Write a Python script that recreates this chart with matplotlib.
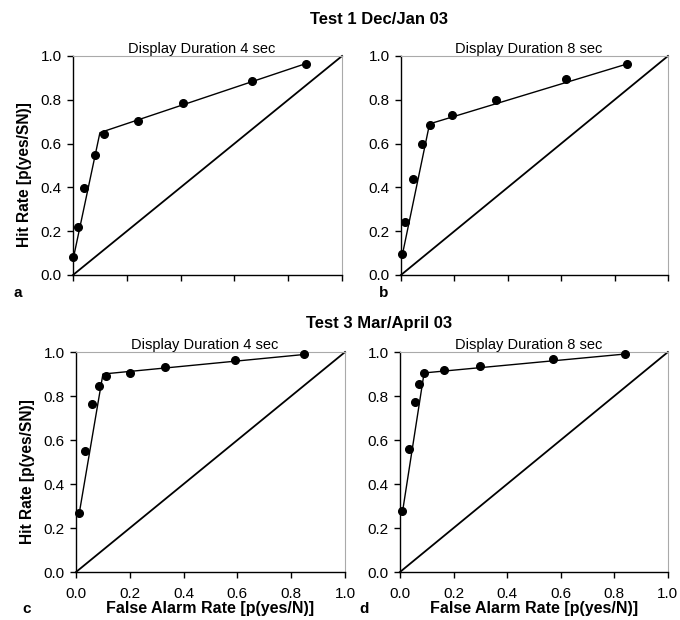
import numpy as np
import matplotlib
matplotlib.use('Agg')
import matplotlib.pyplot as plt

plt.rcParams['font.family'] = ['Liberation Sans', 'DejaVu Sans']

# Test 1, 4 sec
fa_a = [0.0, 0.019, 0.040, 0.080, 0.114, 0.243, 0.409, 0.665, 0.865]
hit_a = [0.084, 0.220, 0.398, 0.547, 0.643, 0.704, 0.786, 0.888, 0.964]
line_a_x = [0.0, 0.10, 0.865]
line_a_y = [0.07, 0.65, 0.965]

# Test 1, 8 sec
fa_b = [0.003, 0.016, 0.044, 0.078, 0.107, 0.192, 0.357, 0.619, 0.848]
hit_b = [0.094, 0.243, 0.439, 0.596, 0.683, 0.731, 0.801, 0.894, 0.964]
line_b_x = [0.003, 0.107, 0.848]
line_b_y = [0.08, 0.69, 0.964]

# Test 3, 4 sec
fa_c = [0.011, 0.033, 0.061, 0.084, 0.112, 0.201, 0.331, 0.590, 0.849]
hit_c = [0.267, 0.550, 0.766, 0.844, 0.891, 0.906, 0.934, 0.965, 0.989]
line_c_x = [0.011, 0.10, 0.849]
line_c_y = [0.26, 0.90, 0.989]

# Test 3, 8 sec
fa_d = [0.009, 0.034, 0.056, 0.071, 0.088, 0.165, 0.298, 0.571, 0.841]
hit_d = [0.279, 0.560, 0.772, 0.855, 0.903, 0.917, 0.937, 0.970, 0.991]
line_d_x = [0.009, 0.09, 0.841]
line_d_y = [0.27, 0.905, 0.991]

ticks = [0.0, 0.2, 0.4, 0.6, 0.8, 1.0]
tick_labels = ['0.0', '0.2', '0.4', '0.6', '0.8', '1.0']

fig = plt.figure(figsize=(6.8, 6.2), dpi=100)

panels = [
    ([0.1074, 0.5565, 0.3956, 0.3532], fa_a, hit_a, line_a_x, line_a_y, 'Display Duration 4 sec', 'a', True, False, (-0.204, -0.082)),
    ([0.5897, 0.5565, 0.3926, 0.3532], fa_b, hit_b, line_b_x, line_b_y, 'Display Duration 8 sec', 'b', False, False, (-0.064, -0.082)),
    ([0.1118, 0.0774, 0.3956, 0.3548], fa_c, hit_c, line_c_x, line_c_y, 'Display Duration 4 sec', 'c', True, True, (-0.182, -0.168)),
    ([0.5882, 0.0774, 0.3940, 0.3548], fa_d, hit_d, line_d_x, line_d_y, 'Display Duration 8 sec', 'd', False, True, (-0.134, -0.168)),
]

for rect, fx, hy, lx, ly, title, letter, ylab, xlab, lpos in panels:
    ax = fig.add_axes(rect)
    ax.plot([0, 1], [0, 1], color='black', lw=1.3, clip_on=False)
    ax.plot(lx, ly, color='black', lw=1.0, clip_on=False)
    ax.plot(fx, hy, 'o', color='black', ms=5.5, clip_on=False, zorder=3)
    ax.set_xlim(0, 1)
    ax.set_ylim(0, 1)
    ax.set_xticks(ticks)
    ax.set_yticks(ticks)
    ax.set_yticklabels(tick_labels, fontsize=11)
    if xlab:
        ax.set_xticklabels(tick_labels, fontsize=11)
        ax.set_xlabel('False Alarm Rate [p(yes/N)]', fontsize=11.5, fontweight='bold', labelpad=0)
    else:
        ax.set_xticklabels([])
    if ylab:
        ax.set_ylabel('Hit Rate [p(yes/SN)]', fontsize=11.2, fontweight='bold')
        ax.yaxis.set_label_coords(-0.151, 0.458)
    ax.tick_params(direction='out', length=4, width=1)
    ax.tick_params(axis='x', pad=7)
    ax.tick_params(axis='y', pad=4)
    for s in ['top', 'right']:
        ax.spines[s].set_color('#aaaaaa')
        ax.spines[s].set_linewidth(0.8)
    for s in ['left', 'bottom']:
        ax.spines[s].set_linewidth(1.0)
    ax.set_title(title, fontsize=10.5, pad=2, x=0.48)
    ax.text(lpos[0], lpos[1], letter, transform=ax.transAxes,
            fontsize=11, fontweight='bold', ha='center', va='center')

fig.text(0.557, 0.969, 'Test 1 Dec/Jan 03', fontsize=12, fontweight='bold', ha='center', va='center')
fig.text(0.557, 0.479, 'Test 3 Mar/April 03', fontsize=12, fontweight='bold', ha='center', va='center')

fig.savefig('out.png', dpi=100)
